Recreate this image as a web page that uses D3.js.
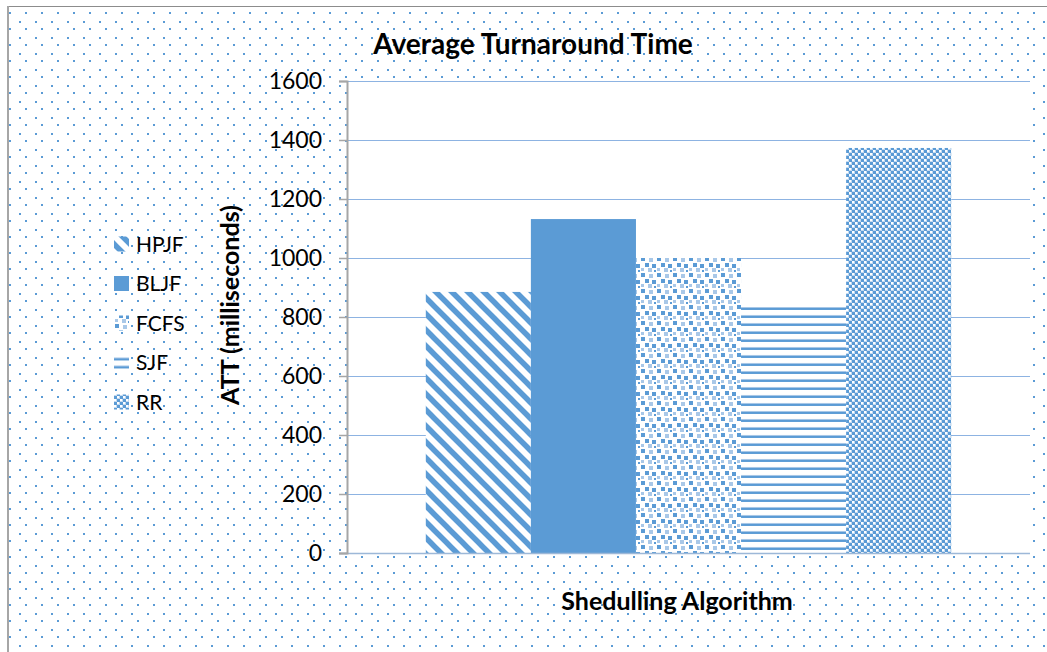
<!DOCTYPE html>
<html>
<head>
<meta charset="utf-8">
<script src="https://cdn.jsdelivr.net/npm/d3@7"></script>
<style>
  html, body { margin: 0; padding: 0; background: #ffffff; }
  svg { display: block; font-family: Lato, "Open Sans", sans-serif; }
</style>
</head>
<body>
<svg id="chart" width="1047" height="652"></svg>
<script>
// Average turnaround time per scheduling algorithm (ms)
const algorithms = ["HPJF", "BLJF", "FCFS", "SJF", "RR"];
const attValues = [885, 1132, 1000, 834, 1373];
const yTicks = [0, 200, 400, 600, 800, 1000, 1200, 1400, 1600];
const groupLabel = ["Shedulling Algorithm"];

const BLUE = "#5B9BD5";
const LIGHT = "#A9C8E8";

const svg = d3.select("#chart");
const defs = svg.append("defs");

const plot = { left: 347, right: 1030, top: 81, bottom: 553 };
const y = d3.scaleLinear().domain([0, 1600]).range([plot.bottom, plot.top]);

// ---- fill patterns ----
// background dots
const dots = defs.append("pattern").attr("id", "bgDots")
  .attr("patternUnits", "userSpaceOnUse").attr("width", 16).attr("height", 16);
dots.append("rect").attr("x", 3).attr("y", 5).attr("width", 2).attr("height", 2).attr("fill", BLUE);
dots.append("rect").attr("x", 9).attr("y", 12).attr("width", 2).attr("height", 2).attr("fill", BLUE);

// wide downward diagonal
const diag = defs.append("pattern").attr("id", "pat-HPJF")
  .attr("patternUnits", "userSpaceOnUse").attr("width", 16).attr("height", 16);
diag.append("rect").attr("width", 16).attr("height", 16).attr("fill", "#fff");
diag.append("path").attr("d", "M-4,-4L20,20M12,-4L20,4M-4,12L4,20")
  .attr("stroke", BLUE).attr("stroke-width", 5.5);

// confetti
const conf = defs.append("pattern").attr("id", "pat-FCFS")
  .attr("patternUnits", "userSpaceOnUse").attr("width", 16).attr("height", 16);
conf.append("rect").attr("width", 16).attr("height", 16).attr("fill", "#fff");
[[1,1,4,BLUE],[9,2,4,LIGHT],[5,7,4,BLUE],[12,8,4,BLUE],[1,12,3,LIGHT],[8,12,4,LIGHT],[14,14,2,BLUE]]
  .forEach(([x, yy, s, c]) => conf.append("rect").attr("x", x).attr("y", yy)
    .attr("width", s).attr("height", s).attr("fill", c));

// narrow horizontal lines, phased so a line sits on the bar top
const sjfTop = y(attValues[algorithms.indexOf("SJF")]);
const horiz = defs.append("pattern").attr("id", "pat-SJF")
  .attr("patternUnits", "userSpaceOnUse").attr("width", 8).attr("height", 8)
  .attr("y", sjfTop);
horiz.append("rect").attr("width", 8).attr("height", 8).attr("fill", "#fff");
horiz.append("rect").attr("y", 0).attr("width", 8).attr("height", 1).attr("fill", LIGHT);
horiz.append("rect").attr("y", 1).attr("width", 8).attr("height", 2).attr("fill", BLUE);

// small checkerboard
const check = defs.append("pattern").attr("id", "pat-RR")
  .attr("patternUnits", "userSpaceOnUse").attr("width", 6).attr("height", 6);
check.append("rect").attr("width", 6).attr("height", 6).attr("fill", "#C5DAF0");
check.append("rect").attr("x", 0).attr("y", 0).attr("width", 3).attr("height", 3).attr("fill", BLUE);
check.append("rect").attr("x", 3).attr("y", 3).attr("width", 3).attr("height", 3).attr("fill", BLUE);
check.append("rect").attr("x", 3).attr("y", 0).attr("width", 2).attr("height", 2).attr("fill", "#fff");
check.append("rect").attr("x", 0).attr("y", 3).attr("width", 2).attr("height", 2).attr("fill", "#fff");

const fillFor = name => name === "BLJF" ? BLUE : `url(#pat-${name})`;

// ---- chart area background and border ----
svg.append("rect").attr("x", 8).attr("y", 6).attr("width", 1047).attr("height", 652)
  .attr("fill", "url(#bgDots)");
svg.append("line").attr("x1", 8).attr("x2", 1047).attr("y1", 6.5).attr("y2", 6.5)
  .attr("stroke", "#8C8C8C").attr("stroke-width", 1);
svg.append("line").attr("x1", 8).attr("x2", 8).attr("y1", 6).attr("y2", 652)
  .attr("stroke", "#A6A6A6").attr("stroke-width", 2);

// ---- plot area ----
svg.append("rect").attr("x", plot.left).attr("y", plot.top)
  .attr("width", plot.right - plot.left).attr("height", plot.bottom - plot.top)
  .attr("fill", "#fff");

const xGroup = d3.scaleBand().domain(groupLabel).range([plot.left, plot.right])
  .paddingInner(0).paddingOuter(0.15);
const xBar = d3.scaleBand().domain(algorithms).range([0, xGroup.bandwidth()]).padding(0);

// gridlines
svg.append("g").selectAll("line").data(yTicks.filter(t => t > 0)).join("line")
  .attr("x1", plot.left).attr("x2", plot.right)
  .attr("y1", d => Math.round(y(d)) + 0.5).attr("y2", d => Math.round(y(d)) + 0.5)
  .attr("stroke", "#8DB3E2").attr("stroke-width", 1.2);

// bars
svg.append("g").selectAll("rect").data(algorithms).join("rect")
  .attr("x", d => xGroup(groupLabel[0]) + xBar(d))
  .attr("width", xBar.bandwidth())
  .attr("y", (d, i) => y(attValues[i]))
  .attr("height", (d, i) => y(0) - y(attValues[i]))
  .attr("fill", d => fillFor(d));

// baseline
svg.append("line").attr("x1", plot.left - 8).attr("x2", plot.right)
  .attr("y1", plot.bottom + 0.5).attr("y2", plot.bottom + 0.5)
  .attr("stroke", "#9DB8D8").attr("stroke-width", 1.5);

// y axis
const yAxis = d3.axisLeft(y).tickValues(yTicks).tickSize(8).tickPadding(17)
  .tickFormat(d3.format("d"));
const gy = svg.append("g").attr("transform", `translate(${plot.left},0)`).call(yAxis);
gy.select(".domain").attr("stroke", "#A6A6A6").attr("stroke-width", 2);
gy.selectAll(".tick line").attr("stroke", "#A6A6A6").attr("stroke-width", 1.5);
gy.selectAll(".tick text").attr("fill", "#000").attr("font-size", 23)
  .attr("font-family", "Lato, sans-serif");

// titles
svg.append("text").attr("x", 533).attr("y", 54).attr("text-anchor", "middle")
  .attr("font-size", 28).attr("font-weight", "bold").attr("fill", "#000")
  .text("Average Turnaround Time");

svg.append("text").attr("transform", "translate(239,305) rotate(-90)")
  .attr("text-anchor", "middle").attr("font-size", 25).attr("font-weight", "bold")
  .attr("fill", "#000").text("ATT (milliseconds)");

svg.append("text").attr("x", 677).attr("y", 610).attr("text-anchor", "middle")
  .attr("font-size", 25).attr("font-weight", "bold").attr("fill", "#000")
  .text(groupLabel[0]);

// legend
const legend = svg.append("g").attr("transform", "translate(114,244)");
const item = legend.selectAll("g").data(algorithms).join("g")
  .attr("transform", (d, i) => `translate(0,${i * 39.5})`);
item.append("rect").attr("x", 0).attr("y", -7.5).attr("width", 15).attr("height", 15)
  .attr("fill", d => fillFor(d));
item.append("text").attr("x", 22).attr("y", 0).attr("dy", "0.36em")
  .attr("font-size", 21).attr("fill", "#000").text(d => d);
</script>
</body>
</html>
